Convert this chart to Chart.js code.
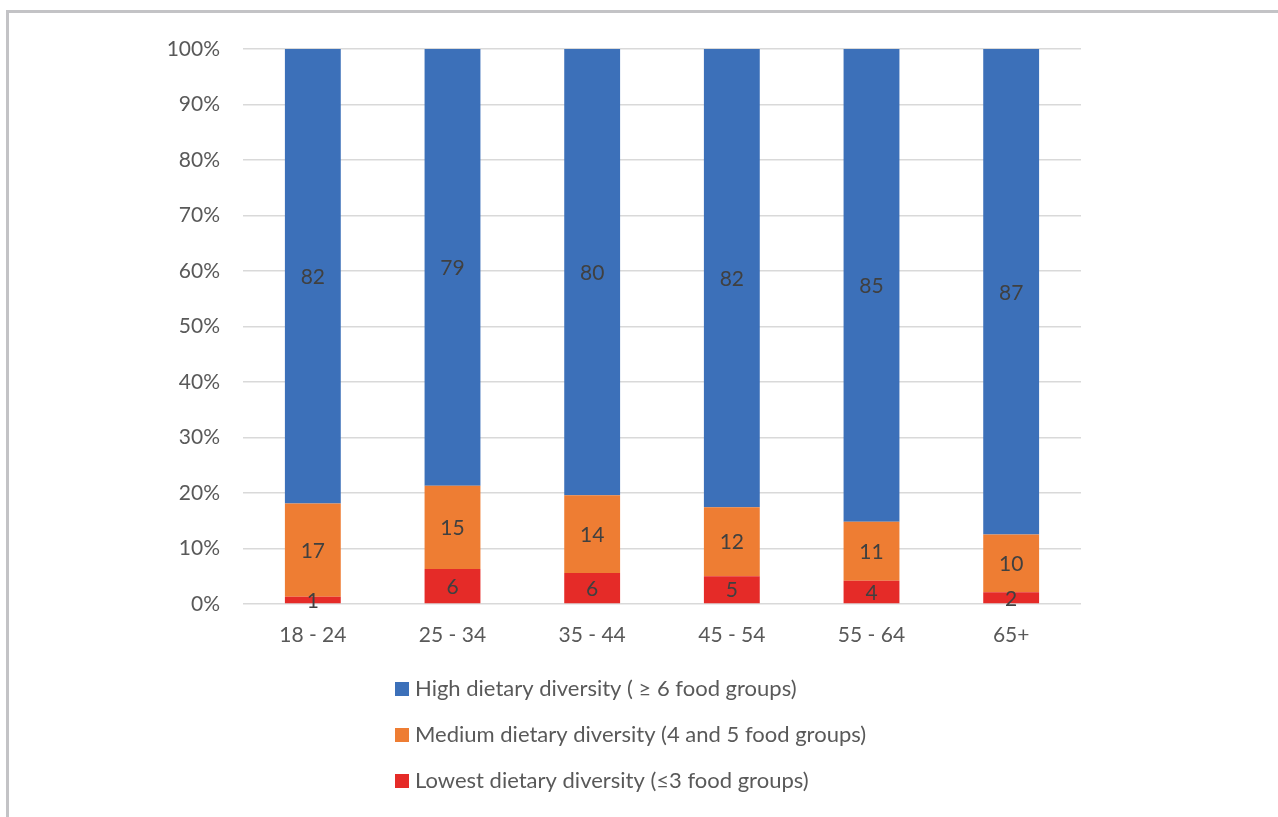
<!DOCTYPE html>
<html>
<head>
<meta charset="utf-8">
<script src="https://cdn.jsdelivr.net/npm/chart.js@4"></script>
<style>
html, body { margin: 0; padding: 0; background: #fff; }
#wrap { position: relative; width: 1278px; height: 817px; overflow: hidden; }
#frame { position: absolute; left: 6px; top: 10px; right: -10px; bottom: -10px;
  border-top: 3px solid #c3c3c6; border-left: 3px solid #c3c3c6; pointer-events: none; }
</style>
</head>
<body>
<div id="wrap">
  <canvas id="chart" width="1278" height="817"></canvas>
  <div id="frame"></div>
</div>
<script>
const categories = ['18 - 24', '25 - 34', '35 - 44', '45 - 54', '55 - 64', '65+']
const lowest = [1.3, 6.3, 5.6, 5.0, 4.2, 2.1]
const medium = [16.8, 15.0, 14.0, 12.4, 10.6, 10.4]
const high = [81.9, 78.7, 80.4, 82.4, 85.2, 87.4]
const yTicks = [0, 10, 20, 30, 40, 50, 60, 70, 80, 90, 100]

const series = [lowest, medium, high]
const names = [
    'Lowest dietary diversity (\u22643 food groups)',
    'Medium dietary diversity (4 and 5 food groups)',
    'High dietary diversity ( \u2265 6 food groups)'
]
const colors = ['#e52b28', '#ee7d33', '#3c70b9']

// 100% stacked: share of each group in its age band
const totals = categories.map((c, j) => series.reduce((s, arr) => s + arr[j], 0))
const shares = series.map(arr => arr.map((v, j) => v / totals[j] * 100))

const FONT = 'Lato, "DejaVu Sans", sans-serif'

// value labels in the middle of each segment
const barLabels = {
    id: 'barLabels',
    afterDatasetsDraw(chart) {
        const ctx = chart.ctx
        ctx.save()
        ctx.font = '21px ' + FONT
        ctx.fillStyle = '#404040'
        ctx.textAlign = 'center'
        ctx.textBaseline = 'middle'
        chart.data.datasets.forEach((ds, i) => {
            chart.getDatasetMeta(i).data.forEach((bar, j) => {
                ctx.fillText(Math.round(series[i][j]), bar.x, (bar.y + bar.base) / 2 + 1)
            })
        })
        ctx.restore()
    }
}

// legend, one entry per line, top series first
const stackedLegend = {
    id: 'stackedLegend',
    afterDraw(chart) {
        const ctx = chart.ctx
        const top = chart.chartArea.bottom + 85
        ctx.save()
        ctx.font = '22px ' + FONT
        ctx.textBaseline = 'middle'
        chart.data.datasets.slice().reverse().forEach((ds, k) => {
            const y = top + k * 46
            ctx.fillStyle = ds.backgroundColor
            ctx.fillRect(395, y - 7, 14, 14)
            ctx.fillStyle = '#595959'
            ctx.fillText(ds.label, 415, y)
        })
        ctx.restore()
    }
}

new Chart(document.getElementById('chart'), {
    type: 'bar',
    data: {
        labels: categories,
        datasets: shares.map((arr, i) => ({
            label: names[i],
            data: arr,
            backgroundColor: colors[i],
            borderWidth: 0,
            barPercentage: 0.4,
            categoryPercentage: 1
        }))
    },
    options: {
        responsive: false,
        animation: false,
        layout: { padding: { top: 49, right: 197, left: 0, bottom: 0 } },
        plugins: {
            legend: { display: false },
            tooltip: { enabled: false }
        },
        scales: {
            x: {
                stacked: true,
                grid: { display: false },
                border: { display: false },
                ticks: { color: '#595959', font: { family: FONT, size: 21 }, padding: 11 },
                afterFit: s => { s.height = 213 }
            },
            y: {
                stacked: true,
                min: 0,
                max: 100,
                afterBuildTicks: s => { s.ticks = yTicks.map(v => ({ value: v })) },
                grid: { color: '#d9d9d9', lineWidth: 1.5, drawTicks: false },
                border: { display: false },
                ticks: {
                    color: '#595959',
                    font: { family: FONT, size: 21 },
                    padding: 23,
                    callback: v => v + '%'
                },
                afterFit: s => { s.width = 243 }
            }
        }
    },
    plugins: [barLabels, stackedLegend]
})
</script>
</body>
</html>
